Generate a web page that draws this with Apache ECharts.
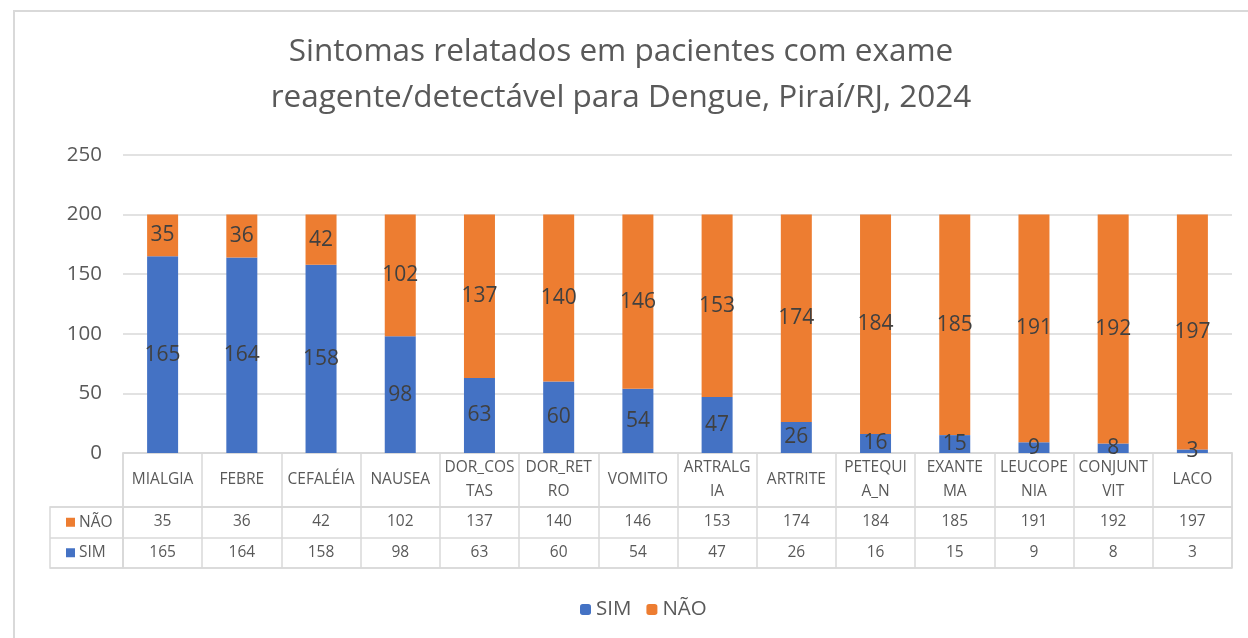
<!DOCTYPE html>
<html><head><meta charset="utf-8">
<script src="https://cdn.jsdelivr.net/npm/echarts@6/dist/echarts.min.js"></script>
<style>html,body{margin:0;padding:0;background:#fff}#c{width:1248px;height:638px}</style>
</head><body><div id="c"></div>
<script>
const categories = ['MIALGIA','FEBRE','CEFALÉIA','NAUSEA','DOR_COS\nTAS','DOR_RET\nRO','VOMITO','ARTRALG\nIA','ARTRITE','PETEQUI\nA_N','EXANTE\nMA','LEUCOPE\nNIA','CONJUNT\nVIT','LACO'];
const sim = [165,164,158,98,63,60,54,47,26,16,15,9,8,3];
const nao = [35,36,42,102,137,140,146,153,174,184,185,191,192,197];
const yTicks = [0,50,100,150,200,250];

const FONT = 'Open Sans';
const GRAY = '#595959';
const LINE = '#d9d9d9';
const BLUE = '#4472C4', ORANGE = '#ED7D31';
const TFS = 15.5;

const chart = echarts.init(document.getElementById('c'));
chart.setOption({
  animation: false,
  textStyle: {fontFamily: FONT},
  title: {
    text: 'Sintomas relatados em pacientes com exame\nreagente/detectável para Dengue, Piraí/RJ, 2024',
    left: 616, top: 24, textAlign: 'center',
    textStyle: {fontSize: 31.5, fontWeight: 'normal', color: GRAY, lineHeight: 46, fontFamily: FONT}
  },
  legend: {
    data: ['SIM','NÃO'], left: 575, top: 594,
    itemWidth: 11, itemHeight: 11, itemGap: 15,
    textStyle: {fontSize: 20.5, color: GRAY, fontFamily: FONT}
  },
  graphic: [{
    type: 'rect', shape: {x: 14, y: 11, width: 1300, height: 700},
    style: {fill: 'none', stroke: LINE, lineWidth: 2}, silent: true
  }],
  grid: [
    {left: 123, right: 16, top: 155, height: 298},
    {left: 123, right: 16, top: 453, height: 54, show: true, borderColor: LINE, borderWidth: 1.5},
    {left: 123, right: 16, top: 507, height: 61, show: true, borderColor: LINE, borderWidth: 1.5},
    {left: 50, width: 73, top: 507, height: 61, show: true, borderColor: LINE, borderWidth: 1.5}
  ],
  xAxis: [
    {gridIndex: 0, type: 'category', data: categories,
     axisLine: {show: true, lineStyle: {color: LINE, width: 1.5}}, axisTick: {show: false},
     axisLabel: {interval: 0, margin: 27, verticalAlign: 'middle', lineHeight: 24, fontSize: TFS, color: GRAY, fontFamily: FONT}},
    {gridIndex: 1, type: 'category', data: categories,
     axisLine: {show: false}, axisTick: {show: false}, axisLabel: {show: false},
     splitLine: {show: true, interval: 0, lineStyle: {color: LINE, width: 1.5}}},
    {gridIndex: 2, type: 'category', data: categories, position: 'top',
     axisLine: {show: false}, axisTick: {show: false},
     splitLine: {show: true, interval: 0, lineStyle: {color: LINE, width: 1.5}},
     axisLabel: {interval: 0, inside: true, margin: 15, verticalAlign: 'middle', fontSize: TFS, color: GRAY, fontFamily: FONT,
       formatter: (v, i) => String(nao[i])}},
    {gridIndex: 2, type: 'category', data: categories, position: 'bottom',
     axisLine: {show: false}, axisTick: {show: false},
     axisLabel: {interval: 0, inside: true, margin: 15, verticalAlign: 'middle', fontSize: TFS, color: GRAY, fontFamily: FONT,
       formatter: (v, i) => String(sim[i])}},
    {gridIndex: 3, type: 'value', show: false}
  ],
  yAxis: [
    {gridIndex: 0, type: 'value', min: yTicks[0], max: yTicks[yTicks.length-1], interval: 50,
     axisLine: {show: false}, axisTick: {show: false},
     axisLabel: {fontSize: 20.5, color: GRAY, margin: 21, fontFamily: FONT},
     splitLine: {lineStyle: {color: LINE, width: 1.5}}},
    {gridIndex: 1, type: 'value', show: false},
    {gridIndex: 2, type: 'category', data: ['SIM','NÃO'],
     axisLine: {show: false}, axisTick: {show: false}, axisLabel: {show: false},
     splitLine: {show: true, interval: 0, lineStyle: {color: LINE, width: 1.5}}},
    {gridIndex: 3, type: 'category', data: ['SIM','NÃO'],
     axisLine: {show: false}, axisTick: {show: false},
     splitLine: {show: true, interval: 0, lineStyle: {color: LINE, width: 1.5}},
     axisLabel: {inside: true, margin: 16, verticalAlign: 'middle', fontSize: TFS, color: GRAY, fontFamily: FONT,
       formatter: v => '{' + (v === 'SIM' ? 'b' : 'o') + '| }{t|' + v + '}',
       rich: {
         b: {width: 9, height: 9, backgroundColor: BLUE},
         o: {width: 9, height: 9, backgroundColor: ORANGE},
         t: {fontSize: TFS, color: GRAY, padding: [0,0,0,4], fontFamily: FONT}
       }}}
  ],
  series: [
    {name: 'SIM', type: 'bar', stack: 'total', data: sim, barWidth: 31, xAxisIndex: 0, yAxisIndex: 0,
     itemStyle: {color: BLUE},
     label: {show: true, position: 'inside', fontSize: 21, color: '#404040', fontFamily: FONT}},
    {name: 'NÃO', type: 'bar', stack: 'total', data: nao, barWidth: 31, xAxisIndex: 0, yAxisIndex: 0,
     itemStyle: {color: ORANGE},
     label: {show: true, position: 'inside', fontSize: 21, color: '#404040', fontFamily: FONT}}
  ]
});
</script></body></html>
